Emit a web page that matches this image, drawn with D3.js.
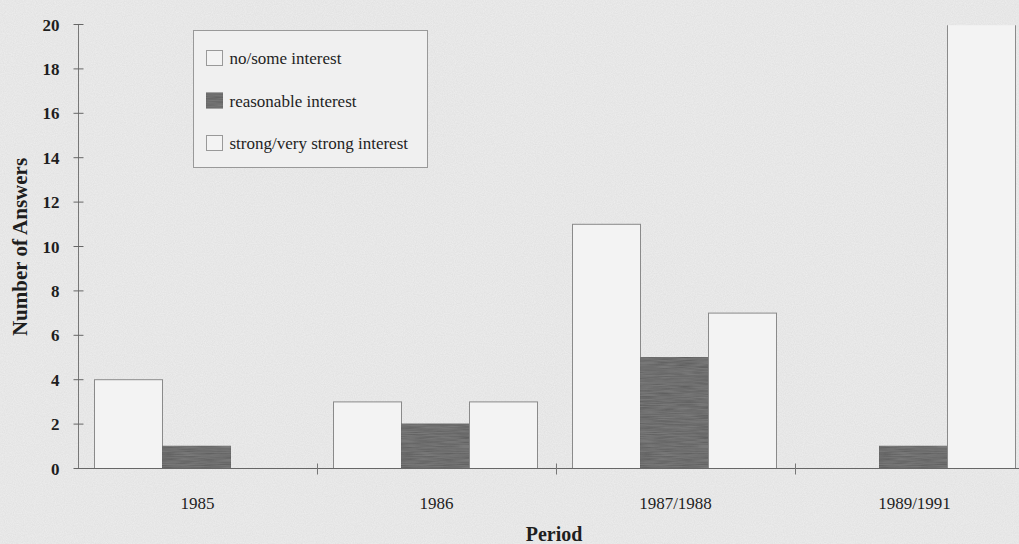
<!DOCTYPE html>
<html>
<head>
<meta charset="utf-8">
<script src="https://cdn.jsdelivr.net/npm/d3@7"></script>
<style>
  html, body { margin: 0; padding: 0; background: #eeeeee; }
  svg { display: block; }
  text { font-family: "Liberation Serif", "Times New Roman", serif; fill: #1e1e1e; }
</style>
</head>
<body>
<svg id="chart" width="1019" height="544"></svg>
<script>
// Survey answers per period, grouped by level of interest
const periods = ["1985", "1986", "1987/1988", "1989/1991"];
const seriesNames = ["no/some interest", "reasonable interest", "strong/very strong interest"];
const noSomeInterest = [4, 3, 11, 0];
const reasonableInterest = [1, 2, 5, 1];
const strongInterest = [0, 3, 7, 20];
const yTicks = [0, 2, 4, 6, 8, 10, 12, 14, 16, 18, 20];

const seriesValues = [noSomeInterest, reasonableInterest, strongInterest];
const fills = ["#f3f3f3", "#5a5a5a", "#f3f3f3"];

const svg = d3.select("#chart");
const W = 1019, H = 544;
const margin = { left: 78, top: 24, bottom: 76 };
const bandW = 239;

// Grainy paper background
const defs = svg.append("defs");
const grain = defs.append("filter").attr("id", "grain")
  .attr("x", 0).attr("y", 0).attr("width", "100%").attr("height", "100%");
grain.append("feTurbulence").attr("type", "fractalNoise")
  .attr("baseFrequency", 0.9).attr("numOctaves", 2).attr("seed", 3);
grain.append("feColorMatrix").attr("type", "matrix")
  .attr("values", "0 0 0 0 0  0 0 0 0 0  0 0 0 0 0  0 0 0 0.06 0");

const barTex = defs.append("filter").attr("id", "barTex");
barTex.append("feTurbulence").attr("type", "fractalNoise")
  .attr("baseFrequency", "0.05 0.9").attr("numOctaves", 2).attr("seed", 7).attr("result", "n");
barTex.append("feColorMatrix").attr("in", "n").attr("type", "matrix")
  .attr("values", "0 0 0 0 0.33  0 0 0 0 0.33  0 0 0 0 0.33  0 0 0 0.5 0").attr("result", "c");
barTex.append("feComposite").attr("in", "c").attr("in2", "SourceGraphic").attr("operator", "in").attr("result", "t");
const m = barTex.append("feMerge");
m.append("feMergeNode").attr("in", "SourceGraphic");
m.append("feMergeNode").attr("in", "t");

svg.append("rect").attr("width", W).attr("height", H).attr("fill", "#eeeeee");
svg.append("rect").attr("width", W).attr("height", H).attr("filter", "url(#grain)");

const y = d3.scaleLinear().domain([0, 20]).range([H - margin.bottom, margin.top]);
const x0 = d3.scaleBand().domain(periods)
  .range([margin.left, margin.left + bandW * periods.length]).paddingInner(0).paddingOuter(0);
const x1 = d3.scaleBand().domain(seriesNames)
  .range([16, 16 + 68 * 3]).padding(0);

// Plot area clip (bars stop at the top of the value range)
defs.append("clipPath").attr("id", "plotClip")
  .append("rect").attr("x", margin.left).attr("y", y(20) + 1.2)
  .attr("width", W - margin.left).attr("height", y(0) - y(20) + 10);

const plot = svg.append("g").attr("clip-path", "url(#plotClip)");

// Bars
periods.forEach((p, i) => {
  const g = plot.append("g").attr("transform", `translate(${x0(p)},0)`);
  seriesNames.forEach((s, k) => {
    const v = seriesValues[k][i];
    g.append("rect")
      .attr("x", x1(s) + 0.5)
      .attr("y", y(v) + 0.5)
      .attr("width", x1.bandwidth())
      .attr("height", Math.max(0, y(0) - y(v)))
      .attr("fill", fills[k])
      .attr("stroke", k === 1 ? "#555" : "#8a8a8a")
      .attr("stroke-width", 1)
      .attr("filter", k === 1 ? "url(#barTex)" : null);
  });
});

// Y axis
const yAxis = svg.append("g").attr("transform", `translate(${margin.left + 0.5},0.5)`);
yAxis.append("line").attr("y1", y(20)).attr("y2", y(0))
  .attr("stroke", "#777");
yAxis.selectAll(".yt").data(yTicks).enter().append("line")
  .attr("x1", -5).attr("x2", 5)
  .attr("y1", d => y(d)).attr("y2", d => y(d))
  .attr("stroke", "#666");
yAxis.selectAll(".yl").data(yTicks).enter().append("text")
  .attr("x", -19).attr("y", d => y(d)).attr("dy", "0.36em")
  .attr("text-anchor", "end")
  .attr("font-size", 17).attr("font-weight", "bold")
  .text(d => d);

// X axis
const xAxis = svg.append("g").attr("transform", `translate(0,${y(0) + 0.5})`);
xAxis.append("line").attr("x1", margin.left).attr("x2", W)
  .attr("stroke", "#666").attr("stroke-width", 1.2);
xAxis.selectAll(".xt").data(periods.slice(1)).enter().append("line")
  .attr("x1", d => x0(d) + 0.5).attr("x2", d => x0(d) + 0.5)
  .attr("y1", -5).attr("y2", 6)
  .attr("stroke", "#777");
xAxis.selectAll(".xl").data(periods).enter().append("text")
  .attr("x", d => x0(d) + x0.bandwidth() / 2)
  .attr("y", 40)
  .attr("text-anchor", "middle")
  .attr("font-size", 17)
  .text(d => d);

// Axis titles
svg.append("text")
  .attr("x", 554).attr("y", 541)
  .attr("text-anchor", "middle")
  .attr("font-size", 20).attr("font-weight", "bold")
  .text("Period");
svg.append("text")
  .attr("transform", `translate(27,247) rotate(-90)`)
  .attr("text-anchor", "middle")
  .attr("font-size", 21).attr("font-weight", "bold")
  .text("Number of Answers");

// Legend
const legend = svg.append("g").attr("transform", "translate(193.5,30.5)");
legend.append("rect").attr("width", 234).attr("height", 137)
  .attr("fill", "#f0f0f0").attr("stroke", "#999");
seriesNames.forEach((s, k) => {
  const row = legend.append("g").attr("transform", `translate(13,${28 + k * 42.5})`);
  row.append("rect").attr("x", 0).attr("y", -8).attr("width", 16).attr("height", 15)
    .attr("fill", fills[k]).attr("stroke", k === 1 ? "#555" : "#999")
    .attr("filter", k === 1 ? "url(#barTex)" : null);
  row.append("text").attr("x", 23).attr("y", 0).attr("dy", "0.35em")
    .attr("font-size", 17).text(s);
});
</script>
</body>
</html>
